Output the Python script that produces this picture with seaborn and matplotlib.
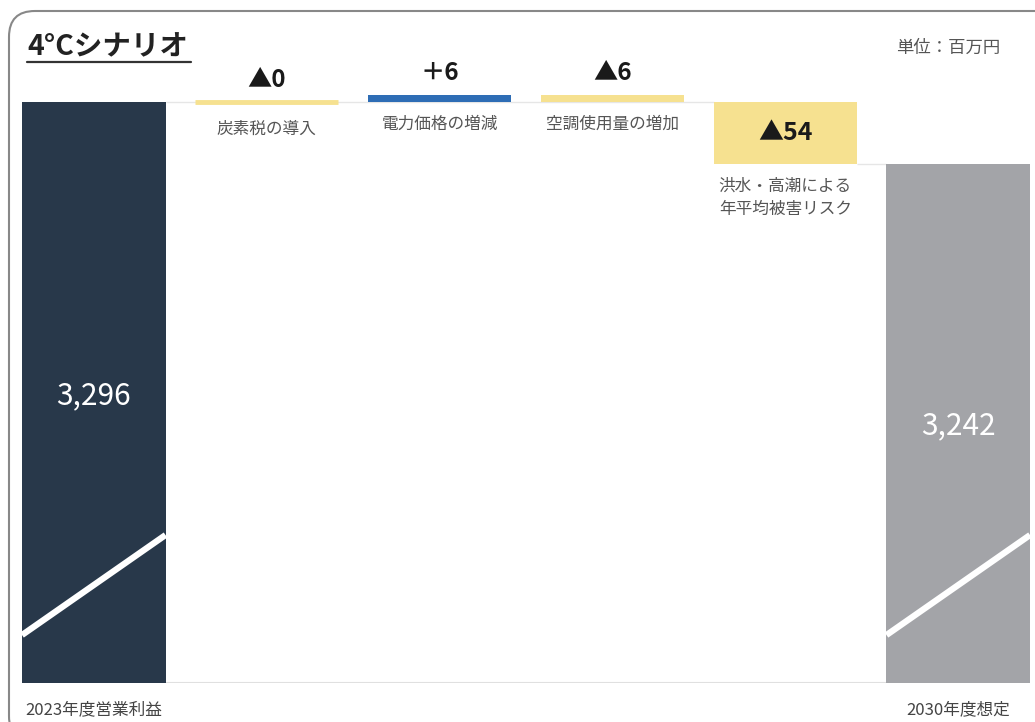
import matplotlib
matplotlib.use("Agg")
import matplotlib.pyplot as plt
import matplotlib.transforms as mtransforms
from matplotlib.patches import FancyBboxPatch
import seaborn as sns
import pandas as pd
import numpy as np

sns.set_theme(style="white")
plt.rcParams['font.family'] = ['Noto Sans CJK JP', 'DejaVu Sans']

# ---- data ----
categories = ["2023年度営業利益", "炭素税の導入", "電力価格の増減", "空調使用量の増加",
              "洪水・高潮による\n年平均被害リスク", "2030年度想定"]
start_value = 3296
deltas = [0, 6, -6, -54]
end_value = 3242
value_labels = ["3,296", "▲0", "＋6", "▲6", "▲54", "3,242"]
unit_label = "単位：百万円"
title = "4°Cシナリオ"

colors = ["#28384A", "#F6E190", "#2E6DB5", "#F6E190", "#F6E190", "#A3A4A8"]

# waterfall geometry from data
lows, highs = [0], [start_value]
level = start_value
for d in deltas:
    new = level + d
    lows.append(min(level, new))
    highs.append(max(level, new))
    level = new
lows.append(0)
highs.append(end_value)

df = pd.DataFrame({"cat": categories, "top": highs})

W, H = 1035, 722
fig = plt.figure(figsize=(W / 100, H / 100), dpi=100)
ax = fig.add_axes([22 / W, (H - 683) / H, 1008 / W, 623 / H])

sns.barplot(data=df, x="cat", y="top", hue="cat", palette=colors, legend=False,
            width=0.83, ax=ax, saturation=1, linewidth=0)

patches = ax.patches[:len(categories)]
for p, lo, hi in zip(patches, lows, highs):
    p.set_y(lo)
    p.set_height(hi - lo)

# carbon tax: zero-change bar shown as thin line
patches[1].set_edgecolor(colors[1])
patches[1].set_linewidth(3.5)

ybot = 2790
ax.set_ylim(ybot, 3332.6)
ax.set_xlim(-0.415, len(categories) - 1 + 0.415)

# connectors
ax.hlines(start_value, 0.415, 4 - 0.415, color="#e6e6e6", lw=1, zorder=0)
ax.hlines(end_value, 4 + 0.415, 5 - 0.415, color="#e6e6e6", lw=1, zorder=0)
ax.axhline(ybot, color="#e0e0e0", lw=1.5, zorder=0)

# break marks on first / last bar
trans = mtransforms.blended_transform_factory(ax.transData, ax.transAxes)
for i in [0, 5]:
    ax.plot([i - 0.415, i + 0.415], [0.077, 0.2375], color="white", lw=4.5,
            transform=trans, solid_capstyle="butt", zorder=5)

# big value labels inside totals
ax.text(0, 3296 - (396 - 102) / 1.1481, value_labels[0], color="white",
        fontsize=21.5, ha="center", va="center", zorder=6)
ax.text(5, 3296 - (426 - 102) / 1.1481, value_labels[5], color="white",
        fontsize=21.5, ha="center", va="center", zorder=6)

# delta labels
for i in [1, 2, 3]:
    ax.text(i, highs[i] + 9, value_labels[i], fontsize=17.5, fontweight="bold",
            ha="center", va="bottom", color="#1a1a1a")
ax.text(4, (lows[4] + highs[4]) / 2, value_labels[4], fontsize=18, fontweight="bold",
        ha="center", va="center", color="#1a1a1a")

# category labels for deltas
for i in [1, 2, 3, 4]:
    off = 16 if i == 1 else 12
    ax.text(i, lows[i] - off, categories[i], fontsize=12, ha="center", va="top",
            color="#555555", linespacing=1.45)

ax.set_xticks([])
ax.set_yticks([])
ax.set_xlabel("")
ax.set_ylabel("")
sns.despine(ax=ax, left=True, bottom=True)

# bottom labels
for i in [0, 5]:
    ax.text(i, -0.03, categories[i].replace("\n", ""), transform=trans, fontsize=12,
            ha="center", va="top", color="#444444")

# title & unit
fig.text(27 / W, 1 - 47 / H, title, fontsize=20.5, fontweight="bold",
         ha="left", va="center", color="#222222")
fig.add_artist(plt.Line2D([27 / W, 191 / W], [1 - 62 / H, 1 - 62 / H],
                          transform=fig.transFigure, color="#333333", lw=1.6))
fig.text(1000 / W, 1 - 48 / H, unit_label, fontsize=12.5, ha="right",
         va="center", color="#555555")

# rounded frame
frame = FancyBboxPatch((9 / W, -20 / H), 1100 / W, (711 + 20) / H,
                       boxstyle="round,pad=0,rounding_size=0.025",
                       transform=fig.transFigure, fill=False,
                       edgecolor="#888888", lw=1.5, mutation_aspect=W / H)
fig.add_artist(frame)

fig.savefig("out.png", dpi=100)
